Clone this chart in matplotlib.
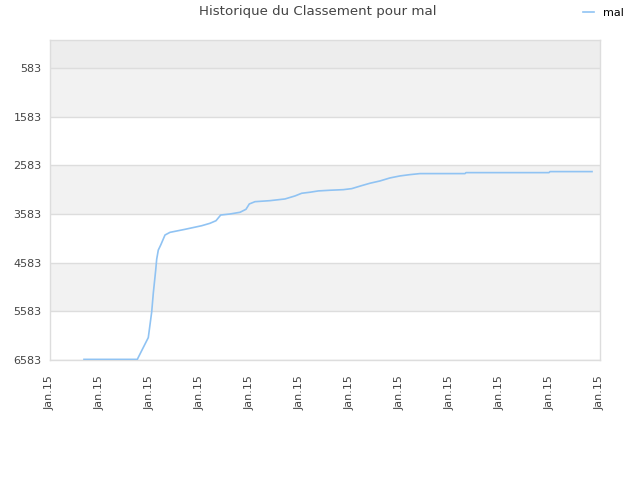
import matplotlib
matplotlib.use("Agg")
import matplotlib.pyplot as plt

# Data (x as tick-index position, y as rank)
x_pos = [0.68, 1.746, 1.966, 2.034, 2.066, 2.114, 2.134, 2.166, 2.214, 2.30, 2.40, 2.70,
         3.034, 3.20, 3.32, 3.414, 3.60, 3.80, 3.92, 3.986, 4.10, 4.40, 4.70, 4.90,
         5.034, 5.20, 5.366, 5.60, 5.866, 6.034, 6.234, 6.40, 6.60, 6.80, 7.00, 7.20,
         7.40, 8.30, 8.32, 9.98, 10.0, 10.84]
ranks = [6570, 6570, 6122, 5595, 5210, 4736, 4510, 4324, 4221, 4015, 3960, 3898,
         3824, 3774, 3721, 3604, 3583, 3548, 3486, 3377, 3330, 3309, 3274, 3212,
         3157, 3136, 3109, 3095, 3083, 3062, 3000, 2951, 2904, 2842, 2801, 2774,
         2753, 2753, 2733, 2733, 2712, 2712]
y_ticks = [583, 1583, 2583, 3583, 4583, 5583, 6583]
x_labels = ["Jan.15"] * 12
series_name = "mal"
title = "Historique du Classement pour mal"

fig = plt.figure(figsize=(6.4, 4.8), dpi=100)
ax = fig.add_axes([50/640, 1-360/480, 550/640, 320/480])

ymin, ymax = 8, 6583
# bands
ax.axhspan(ymin, y_ticks[0], color="#ededed", zorder=0, lw=0)
for i in range(len(y_ticks)-1):
    c = "#f2f2f2" if i % 2 == 0 else "#ffffff"
    ax.axhspan(y_ticks[i], y_ticks[i+1], color=c, zorder=0, lw=0)
for t in y_ticks:
    ax.axhline(t, color="#dddddd", lw=1, zorder=1)

line, = ax.plot(x_pos, ranks, color="#90c3f3", lw=1.2, zorder=3, label=series_name)

ax.set_xlim(0, 11)
ax.set_ylim(ymax, ymin)
ax.set_yticks(y_ticks)
ax.set_yticklabels([str(t) for t in y_ticks], fontsize=8, color="#444444")
ax.set_xticks(range(12))
ax.set_xticklabels(x_labels, rotation=90, fontsize=8, color="#444444")
ax.tick_params(axis="both", length=0, pad=6)
ax.tick_params(axis="x", pad=11)
for s in ax.spines.values():
    s.set_color("#dddddd")
    s.set_linewidth(1)

fig.text(318/640, 1-12/480, title, ha="center", va="center", fontsize=9.6, color="#444444")
fig.legend(handles=[line], labels=[series_name], loc="center left",
           bbox_to_anchor=(583/640, 1-13/480), frameon=False, fontsize=8,
           handlelength=1.0, handletextpad=0.8, borderaxespad=0, borderpad=0)

fig.savefig("out.png", dpi=100)
